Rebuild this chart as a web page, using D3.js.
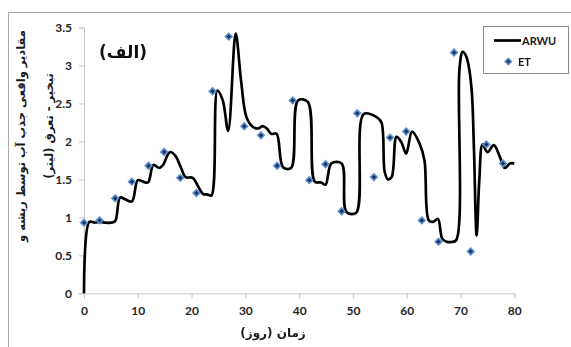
<!DOCTYPE html>
<html>
<head>
<meta charset="utf-8">
<script src="https://cdn.jsdelivr.net/npm/d3@7"></script>
<style>
  html, body { margin: 0; padding: 0; background: #fff; }
  svg { display: block; }
  .tick text { font-family: Lato, "Open Sans", sans-serif; font-weight: 700; font-size: 12px; fill: #262626; }
</style>
</head>
<body>
<svg id="chart" width="571" height="347"></svg>
<script>
// Daily modelled root water uptake (ARWU), litres
const arwuDays = [0, 1, 2, 3, 4, 5, 5.8, 6.7, 7.6, 8.9, 10.0, 11.0, 11.9, 12.9, 14.0, 14.6, 16.0, 17.0, 18.0, 18.9, 20.2, 21.2, 22.1, 23.0, 23.7,
  24.8, 25.8, 26.8, 28.2, 29.2, 30.2, 31.4, 32.3, 33.3, 34.0, 34.8, 35.8, 37.0, 38.5, 39.8, 41.6, 42.9, 44.1, 44.9, 46.0, 47.9,
  48.8, 50.6, 52.0, 54.4, 55.3, 55.9, 56.5, 57.2, 58.1, 59.0, 59.9, 61.0, 62.4, 63.3, 64.1, 64.9, 65.8, 66.6, 67.4, 68.3, 69.2,
  69.8, 70.4, 71.0, 71.5, 72.1, 72.5, 73.0, 73.5, 74.1, 75.0, 76.2, 77.3, 78.2, 79.2, 80.0];
const arwuValues = [0, 0.94, 0.93, 0.94, 0.93, 0.93, 0.95, 1.26, 1.24, 1.21, 1.49, 1.47, 1.46, 1.69, 1.65, 1.68, 1.86, 1.81, 1.66, 1.53, 1.52, 1.41, 1.31, 1.30, 1.29,
  2.67, 2.54, 2.14, 3.42, 2.80, 2.32, 2.19, 2.17, 2.20, 2.17, 2.10, 2.10, 1.66, 1.65, 2.54, 2.52, 1.47, 1.46, 1.43, 1.71, 1.71,
  1.07, 1.06, 2.36, 2.32, 2.25, 1.60, 1.50, 1.53, 2.06, 1.99, 1.84, 2.13, 1.97, 1.75, 0.96, 0.94, 0.98, 0.72, 0.68, 0.675, 0.70,
  2.95, 3.18, 3.13, 3.00, 2.65, 1.90, 0.76, 1.50, 1.96, 1.86, 1.95, 1.80, 1.65, 1.71, 1.71];

// Measured evapotranspiration (ET), litres
const etDays = [0, 2.9, 5.8, 8.9, 12, 14.9, 17.9, 20.9, 23.9, 26.9, 29.8, 32.9, 35.9, 38.8, 41.9, 44.9, 47.9, 50.8, 53.9,
  56.9, 59.9, 62.8, 65.9, 68.8, 71.9, 74.8, 77.9];
const etValues = [0.93, 0.96, 1.25, 1.47, 1.68, 1.86, 1.52, 1.32, 2.66, 3.38, 2.2, 2.08, 1.68, 2.54, 1.49, 1.70, 1.08, 2.37, 1.53,
  2.05, 2.13, 0.96, 0.68, 3.17, 0.55, 1.96, 1.71];

const xTicks = [0, 10, 20, 30, 40, 50, 60, 70, 80];
const yTicks = [0, 0.5, 1, 1.5, 2, 2.5, 3, 3.5];

const seriesNames = ["ARWU", "ET"];
const panelLabel = "(الف)";
const xTitle = "زمان (روز)";
const yTitleLines = ["مقادیر واقعی جذب آب توسط ریشه و", "تبخیر - تعرق (لیتر)"];

const svg = d3.select("#chart");
const axisColor = "#c6c6c6";

// outer chart frame
svg.append("path")
  .attr("d", "M8.5,347 V12.5 H571")
  .attr("fill", "none")
  .attr("stroke", "#a9a9a9")
  .attr("stroke-width", 1);

const x = d3.scaleLinear().domain([0, 80]).range([84, 514.3]);
const y = d3.scaleLinear().domain([0, 3.5]).range([293.3, 27.5]);

// y axis
const yAxis = svg.append("g")
  .attr("transform", `translate(${x(0)},0)`)
  .call(d3.axisLeft(y).tickValues(yTicks).tickSize(5).tickPadding(7).tickFormat(d => String(d)));
yAxis.select(".domain").attr("stroke", axisColor);
yAxis.selectAll(".tick line").attr("stroke", axisColor);

// x axis
const xAxis = svg.append("g")
  .attr("transform", `translate(0,${y(0)})`)
  .call(d3.axisBottom(x).tickValues(xTicks).tickSize(5).tickPadding(8).tickFormat(d => String(d)));
xAxis.select(".domain").attr("stroke", axisColor);
xAxis.selectAll(".tick line").attr("stroke", axisColor);

// ARWU smoothed line
const arwu = arwuDays.map((d, i) => [d, arwuValues[i]]);
const line = d3.line()
  .x(d => x(d[0]))
  .y(d => y(d[1]))
  .curve(d3.curveCatmullRom.alpha(0.5));
svg.append("path")
  .datum(arwu)
  .attr("d", line)
  .attr("fill", "none")
  .attr("stroke", "#000")
  .attr("stroke-width", 2.7)
  .attr("stroke-linejoin", "round");

// ET diamond markers (squares turned 45 degrees)
const defs = svg.append("defs");
defs.append("filter").attr("id", "soft")
  .append("feGaussianBlur").attr("stdDeviation", 0.5);

const diamond = d3.symbol().type(d3.symbolSquare).size(22);
const et = etDays.map((d, i) => [d, etValues[i]]);
const markers = svg.append("g").attr("filter", "url(#soft)");
markers.selectAll("path")
  .data(et)
  .join("path")
  .attr("d", diamond)
  .attr("transform", d => `translate(${x(d[0])},${y(d[1])}) rotate(45)`)
  .attr("fill", "#1b2f5a")
  .attr("stroke", "#5b8fd0")
  .attr("stroke-width", 1.6);

// legend
const lg = svg.append("g");
lg.append("rect")
  .attr("x", 483.5).attr("y", 26.5).attr("width", 85).attr("height", 47)
  .attr("fill", "#fff").attr("stroke", "#8a8a8a").attr("stroke-width", 1);
lg.append("line")
  .attr("x1", 494).attr("x2", 521).attr("y1", 40.5).attr("y2", 40.5)
  .attr("stroke", "#000").attr("stroke-width", 2.7);
lg.append("text")
  .attr("x", 522).attr("y", 44.5)
  .attr("font-family", "Lato, sans-serif").attr("font-weight", 700).attr("font-size", 11)
  .attr("fill", "#1a1a1a")
  .text(seriesNames[0]);
lg.append("path")
  .attr("d", diamond)
  .attr("transform", "translate(508.3,61.5) rotate(45)")
  .attr("filter", "url(#soft)")
  .attr("fill", "#1b2f5a").attr("stroke", "#5b8fd0").attr("stroke-width", 1.6);
lg.append("text")
  .attr("x", 518).attr("y", 65.5)
  .attr("font-family", "Lato, sans-serif").attr("font-weight", 700).attr("font-size", 11)
  .attr("fill", "#1a1a1a")
  .text(seriesNames[1]);

// panel label
svg.append("text")
  .attr("x", 123).attr("y", 58)
  .attr("text-anchor", "middle")
  .attr("direction", "rtl")
  .attr("font-family", "DejaVu Sans, sans-serif").attr("font-weight", 700).attr("font-size", 17)
  .attr("fill", "#111")
  .text(panelLabel);

// x axis title
svg.append("text")
  .attr("x", 273).attr("y", 337)
  .attr("text-anchor", "middle")
  .attr("direction", "rtl")
  .attr("font-family", "DejaVu Sans, sans-serif").attr("font-weight", 700).attr("font-size", 12)
  .attr("fill", "#1a1a1a")
  .text(xTitle);

// y axis title, two rotated lines
const yCenters = [[25, 136], [53, 126]];
yTitleLines.forEach((t, i) => {
  svg.append("text")
    .attr("transform", `translate(${yCenters[i][0]},${yCenters[i][1]}) rotate(-90)`)
    .attr("text-anchor", "middle")
    .attr("direction", "rtl")
    .attr("font-family", "DejaVu Sans, sans-serif").attr("font-weight", 700).attr("font-size", 11.5)
    .attr("fill", "#1a1a1a")
    .text(t);
});
</script>
</body>
</html>
